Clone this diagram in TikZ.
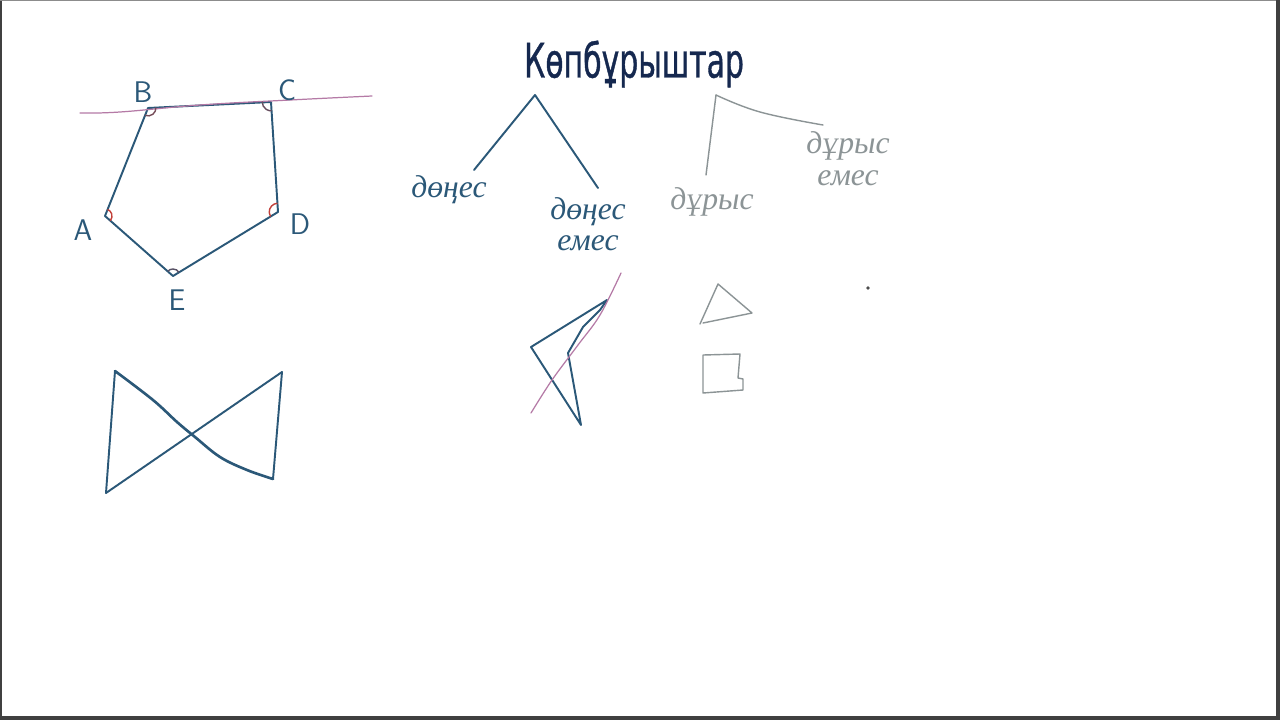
\documentclass[tikz,border=0pt]{standalone}
\usepackage{fontspec}
\newfontfamily\titlefont[FakeStretch=0.63, FakeBold=0.8]{DejaVu Sans}
\newfontfamily\handfont{Liberation Serif}
\definecolor{ink}{HTML}{2B5878}
\definecolor{titleblue}{HTML}{15284F}
\definecolor{pencil}{HTML}{8C9496}
\definecolor{marker}{HTML}{B57AA6}
\definecolor{anglered}{HTML}{C2403A}
\tikzset{
  pen/.style={draw=ink, line width=1.1pt, line cap=round, line join=round},
  graypen/.style={draw=pencil, line width=0.8pt, line cap=round, line join=round},
  pinkpen/.style={draw=marker, line width=0.7pt, line cap=round},
  anglemark/.style={draw=anglered, line width=0.8pt},
  hand/.style={font=\handfont\itshape\fontsize{18}{18}\selectfont, text=ink, inner sep=0pt},
  grayhand/.style={hand, text=pencil},
  vertex/.style={font=\sffamily\fontsize{17}{17}\selectfont, text=ink, inner sep=0pt}
}
\begin{document}
\begin{tikzpicture}[x=0.02cm, y=-0.02cm]
\useasboundingbox (0,0) rectangle (1280,720);
\fill[white] (0,0) rectangle (1280,720);
\draw[line width=1.2pt, black!75] (1,0) -- (1,720);
\draw[line width=0.6pt, black!45] (0,0.5) -- (1280,0.5);
\draw[line width=1.8pt, black!75] (1278,0) -- (1278,720);
\draw[line width=1.8pt, black!75] (0,718) -- (1280,718);

% title
\node[text=titleblue, font=\titlefont\fontsize{27}{27}\selectfont] (title) at (634,64) {Көпбұрыштар};

% convex pentagon
\coordinate (B) at (148,108);
\coordinate (C) at (271,102);
\coordinate (D) at (278,212);
\coordinate (E) at (173,276);
\coordinate (A) at (105,216);
\draw[pen] (A) -- (B) -- (C) -- (D) -- (E) -- cycle;
\draw[pinkpen] plot[smooth, tension=.7] coordinates {(80,113) (120,112) (200,105) (290,100) (372,96)};
\draw[anglemark, draw=anglered!50!ink] (B) ++(-111.7:4.5pt) arc[start angle=-111.7, end angle=2.8, radius=4.5pt];
\draw[anglemark, draw=anglered!40!ink] (C) ++(177.2:5pt) arc[start angle=177.2, end angle=273.6, radius=5pt];
\draw[anglemark] (D) ++(93.6:5pt) arc[start angle=93.6, end angle=211.4, radius=5pt];
\draw[anglemark, draw=anglered!30!ink] (E) ++(31.4:4pt) arc[start angle=31.4, end angle=138.6, radius=4pt];
\draw[anglemark] (A) ++(-41.4:4pt) arc[start angle=-41.4, end angle=68.3, radius=4pt];
\node[vertex] (lB) at (143,92) {B};
\node[vertex] (lC) at (287,90) {C};
\node[vertex] (lA) at (83,230) {A};
\node[vertex] (lD) at (300,224) {D};
\node[vertex] (lE) at (177,300) {E};

% convex / non-convex
\coordinate (top1) at (535,95);
\coordinate (left1) at (474,170);
\coordinate (right1) at (598,188);
\draw[pen] (top1) -- (left1);
\draw[pen] (top1) -- (right1);
\node[hand] (convex) at (449,190) {дөңес};
\node[hand] (nonconvex) at (588,212) {дөңес};
\node[hand] (nonconvex2) at (588,243) {емес};

% regular / non-regular
\coordinate (top2) at (716,95);
\coordinate (left2) at (706,175);
\coordinate (right2) at (823,125);
\draw[graypen] (top2) -- (left2);
\draw[graypen] plot[smooth, tension=.7] coordinates {(top2) (760,112) (823,125)};
\node[grayhand] (regular) at (712,202) {дұрыс};
\node[grayhand] (irregular) at (848,146) {дұрыс};
\node[grayhand] (irregular2) at (848,178) {емес};

% concave quadrilateral
\draw[pen] (607,300) -- (531,347) -- (581,425) -- (568,353) -- (583,327) -- (600,310) -- cycle;
\draw[pinkpen] plot[smooth, tension=.6] coordinates {(531,413) (552,380) (578,345) (600,315) (621,273)};

% regular shapes
\draw[graypen] (700,324) -- (718,284) -- (752,313) -- (703,323);
\draw[graypen] (703,355) -- (740,354) -- (738,378) -- (743,379) -- (743,390) -- (703,393) -- cycle;
\fill[black!70] (868,288) circle (1.8);

% self-intersecting
\draw[pen] (115,371) -- (106,493);
\draw[pen] (282,372) -- (273,479);
\draw[pen] (106,493) -- (282,372);
\draw[pen, line width=1.5pt] plot[smooth, tension=.6] coordinates {(115,371) (153,400) (177,422) (195,437) (220,457) (247,470) (273,479)};
\end{tikzpicture}
\end{document}
